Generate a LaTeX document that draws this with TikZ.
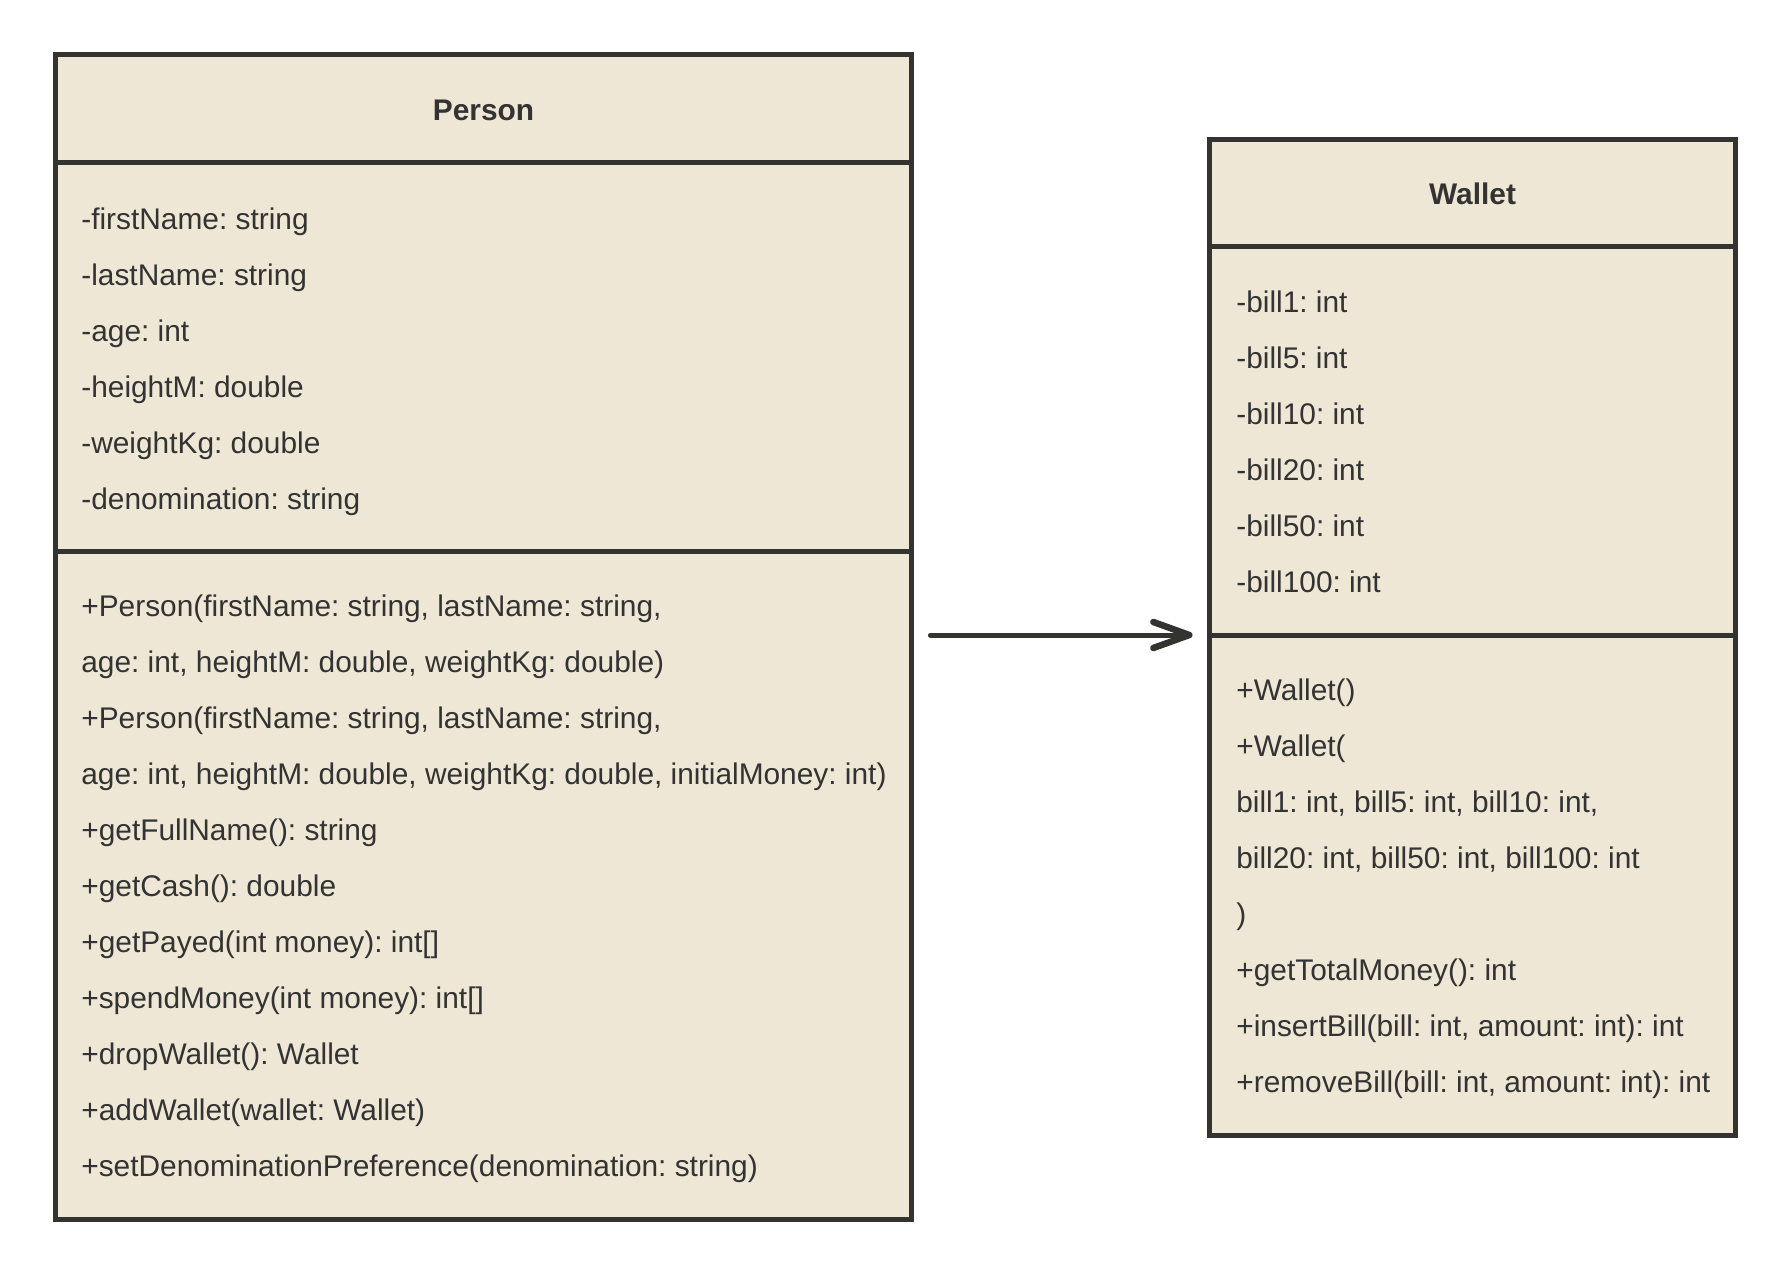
\documentclass[tikz,border=0pt]{standalone}
\usepackage{fontspec}
\setmainfont{Liberation Sans}
\frenchspacing
\usetikzlibrary{arrows.meta, positioning}
\definecolor{umlfill}{RGB}{238,231,213}
\definecolor{umlline}{RGB}{51,51,47}
\definecolor{umltext}{RGB}{51,51,51}

\begin{document}
\begin{tikzpicture}[x=0.02cm, y=-0.02cm,
    classbox/.style={draw=umlline, fill=umlfill, line width=0.1cm, inner sep=0pt},
    classname/.style={text=umltext, inner sep=0pt, font=\bfseries\fontsize{17}{20}\selectfont},
    member/.style={anchor=base west, inner sep=0pt, text=umltext, font=\fontsize{17}{20}\selectfont},
    sepline/.style={draw=umlline, line width=0.1cm},
    assoc/.style={-{Straight Barb[length=0.72cm, width=0.52cm, line width=0.13cm, round]},
                  draw=umlline, line width=0.1cm, line cap=round}]
    \useasboundingbox (0,0) rectangle (1788,1271);

    % Person
    \node[classbox, minimum width=17.14cm, minimum height=23.32cm] (person) at (483.5,637) {};
    \draw[sepline] (person.west |- 0,162) -- (person.east |- 0,162);
    \draw[sepline] (person.west |- 0,551) -- (person.east |- 0,551);
    \node[classname] (personname) at (483.5,110) {Person};
    \foreach \txt [count=\i] in {-firstName: string, -lastName: string, -age: int,
        -heightM: double, -weightKg: double, -denomination: string}
        \node[member] (pattr\i) at (81,{229+(\i-1)*56}) {\txt};
    \foreach \txt [count=\i] in {{+Person(firstName: string, lastName: string,},
        {age: int, heightM: double, weightKg: double)},
        {+Person(firstName: string, lastName: string,},
        {age: int, heightM: double, weightKg: double, initialMoney: int)},
        +getFullName(): string, +getCash(): double, +getPayed(int money): int[],
        +spendMoney(int money): int[], +dropWallet(): Wallet,
        +addWallet(wallet: Wallet), +setDenominationPreference(denomination: string)}
        \node[member] (pmeth\i) at (81,{616.5+(\i-1)*56}) {\txt};

    % Wallet
    \node[classbox, minimum width=10.54cm, minimum height=19.94cm] (wallet) at (1472.5,637.5) {};
    \draw[sepline] (wallet.west |- 0,246) -- (wallet.east |- 0,246);
    \coordinate (wsep) at (wallet.west |- 0,635);
    \draw[sepline] (wsep) -- (wallet.east |- wsep);
    \node[classname] (walletname) at (1472.5,194) {Wallet};
    \foreach \txt [count=\i] in {-bill1: int, -bill5: int, -bill10: int,
        -bill20: int, -bill50: int, -bill100: int}
        \node[member] (wattr\i) at (1236,{312+(\i-1)*56}) {\txt};
    \foreach \txt [count=\i] in {+Wallet(), +Wallet(,
        {bill1: int, bill5: int, bill10: int,},
        {bill20: int, bill50: int, bill100: int}, ),
        +getTotalMoney(): int, {+insertBill(bill: int, amount: int): int},
        {+removeBill(bill: int, amount: int): int}}
        \node[member] (wmeth\i) at (1236,{700+(\i-1)*56}) {\txt};

    % Association
    \draw[assoc, shorten <=0.32cm, shorten >=0.28cm] (person.east |- wsep) -- (wsep);
\end{tikzpicture}
\end{document}
